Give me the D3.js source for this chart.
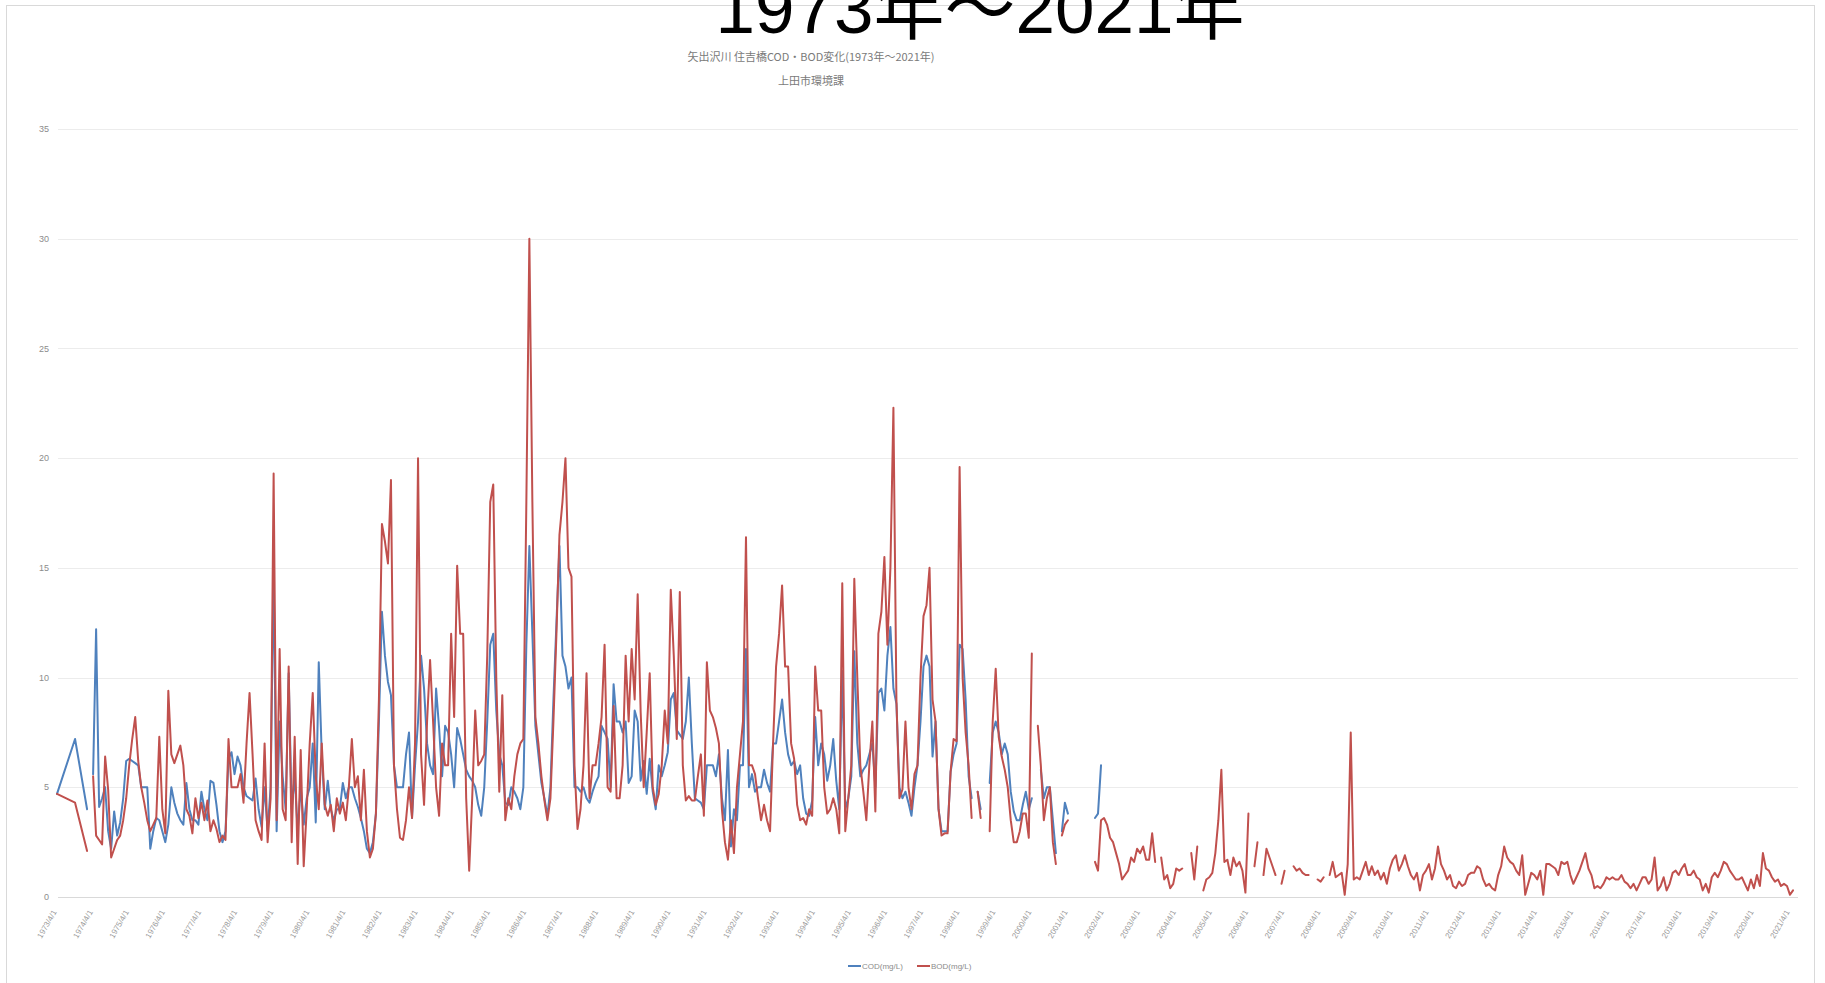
<!DOCTYPE html>
<html><head><meta charset="utf-8">
<script src="https://cdn.jsdelivr.net/npm/d3@7/dist/d3.min.js"></script>
<style>
html,body{margin:0;padding:0;background:#fff;}
svg{display:block;}
</style></head><body>
<svg id="chart" width="1825" height="983"></svg>
<script>
const bigTitle = "1973年〜2021年";
const chartTitle = "矢出沢川  住吉橋COD・BOD変化(1973年〜2021年)";
const chartSubtitle = "上田市環境課";
const seriesNames = ["COD(mg/L)", "BOD(mg/L)"];
const yTicks = [0, 5, 10, 15, 20, 25, 30, 35];
const xTickLabels = [
 "1973/4/1","1974/4/1","1975/4/1","1976/4/1","1977/4/1","1978/4/1","1979/4/1","1980/4/1","1981/4/1","1982/4/1",
 "1983/4/1","1984/4/1","1985/4/1","1986/4/1","1987/4/1","1988/4/1","1989/4/1","1990/4/1","1991/4/1","1992/4/1",
 "1993/4/1","1994/4/1","1995/4/1","1996/4/1","1997/4/1","1998/4/1","1999/4/1","2000/4/1","2001/4/1","2002/4/1",
 "2003/4/1","2004/4/1","2005/4/1","2006/4/1","2007/4/1","2008/4/1","2009/4/1","2010/4/1","2011/4/1","2012/4/1",
 "2013/4/1","2014/4/1","2015/4/1","2016/4/1","2017/4/1","2018/4/1","2019/4/1","2020/4/1","2021/4/1"];

// sampling dates: first year sparse, then monthly
const firstDates = ["1973/4", "1973/10", "1974/2", "1974/3"];
const monthlyStart = "1974/4", monthlyEnd = "2021/5";

const cod = [
 4.7, 7.2, 4.0, null,
 5.6,12.2,4.1,4.5,5.0,3.0,2.2,3.9,2.8,3.4,4.5,6.2,
 6.3,6.2,6.1,6.0,5.0,5.0,5.0,2.2,3.0,3.6,3.5,3.0,
 2.5,3.3,5.0,4.3,3.8,3.5,3.3,5.2,4.0,3.5,3.5,3.3,
 4.8,4.0,3.5,5.3,5.2,4.2,3.0,2.5,3.0,6.3,6.6,5.6,
 6.4,6.0,5.0,4.6,4.5,4.4,5.4,4.0,3.2,5.0,3.0,5.0,
 15.0,3.0,8.0,5.5,4.0,10.2,4.0,5.5,3.0,5.0,3.3,4.5,
 5.0,7.0,3.4,10.7,6.5,4.0,5.3,4.0,3.5,4.0,4.0,5.2,
 4.5,5.0,5.0,4.5,4.1,3.6,3.0,2.2,2.0,2.5,3.8,8.0,
 13.0,11.0,9.8,9.2,6.0,5.0,5.0,5.0,6.5,7.5,3.6,6.0,
 8.0,11.0,9.5,7.0,6.0,5.6,9.5,7.7,5.5,7.8,7.5,6.5,
 5.0,7.7,7.2,6.5,5.8,5.5,5.3,5.0,4.2,3.7,5.0,8.0,
 11.5,12.0,8.5,6.5,6.0,4.3,4.2,5.0,4.8,4.5,4.0,5.0,
 11.5,16.0,12.0,7.8,6.5,5.2,4.5,3.7,5.0,9.0,12.5,16.0,
 11.0,10.5,9.5,10.0,5.0,5.0,4.8,5.0,4.5,4.3,4.8,5.2,
 5.5,7.8,7.5,7.2,5.0,9.7,8.0,8.0,7.5,8.0,5.2,5.5,
 8.5,8.0,5.3,6.2,4.7,6.3,4.8,4.0,6.0,5.5,6.0,6.6,
 9.0,9.3,7.6,7.4,7.2,8.0,10.0,7.0,4.5,4.4,4.3,4.0,
 6.0,6.0,6.0,5.5,6.5,4.5,3.5,6.7,2.3,4.0,3.5,6.0,
 6.0,11.3,5.0,5.6,4.8,5.0,5.0,5.8,5.2,4.8,7.0,7.0,
 8.0,9.0,7.5,6.5,6.0,6.2,5.6,6.0,4.5,3.8,3.7,4.4,
 8.2,6.0,7.0,6.5,5.3,6.0,7.2,5.3,4.0,10.3,4.0,4.5,
 5.5,11.2,7.0,5.5,5.8,6.0,6.5,7.0,5.0,9.3,9.5,8.5,
 11.0,12.3,9.5,8.8,5.0,4.5,4.8,4.3,3.7,5.0,6.0,8.0,
 10.5,11.0,10.5,6.4,8.0,4.0,3.0,3.0,3.0,5.7,6.5,7.0,
 11.5,11.3,9.0,5.5,4.5,null,4.8,4.0,null,null,5.2,7.5,
 8.0,7.5,6.5,7.0,6.5,4.8,3.9,3.5,3.5,4.2,4.8,4.0,
 4.5,null,null,5.8,4.5,5.0,5.0,3.5,2.0,null,3.0,4.3,
 3.8,null,null,null,null,null,null,null,null,3.6,3.8,6.0
];

const bod = [
 4.7, 4.3, 2.1, null,
 5.5,2.8,2.6,2.4,6.4,4.9,1.8,2.2,2.6,2.8,3.5,4.5,
 6.0,7.2,8.2,6.2,5.0,4.3,3.5,3.0,3.3,3.6,7.3,4.0,
 2.9,9.4,6.5,6.1,6.5,6.9,6.0,4.0,3.7,2.9,4.5,3.6,
 4.3,3.5,4.4,3.0,3.5,3.1,2.5,2.8,2.6,7.2,5.0,5.0,
 5.0,5.6,4.3,7.0,9.3,6.5,3.5,3.0,2.6,7.0,2.5,4.5,
 19.3,3.5,11.3,4.0,3.5,10.5,2.5,7.3,1.5,6.7,1.4,4.0,
 7.0,9.3,5.5,4.0,7.0,4.2,3.7,4.2,3.0,4.5,3.8,4.3,
 3.5,5.0,7.2,5.0,5.5,3.5,5.8,3.0,1.8,2.2,3.8,9.0,
 17.0,16.2,15.2,19.0,6.0,4.0,2.7,2.6,3.5,5.0,3.6,7.0,
 20.0,6.5,4.2,8.0,10.8,8.0,5.0,3.7,7.0,6.0,6.0,12.0,
 8.2,15.1,12.0,12.0,4.5,1.2,4.5,8.5,6.0,6.2,6.5,11.0,
 18.0,18.8,10.0,4.8,9.2,3.5,4.5,4.0,5.5,6.5,7.0,7.2,
 18.0,30.0,18.0,8.2,7.0,5.5,4.4,3.5,4.5,8.0,12.0,16.5,
 18.0,20.0,15.0,14.6,6.0,3.1,4.0,6.0,10.2,4.5,6.0,6.0,
 7.0,8.2,11.5,5.0,4.8,8.7,4.5,4.5,6.0,11.0,8.0,11.3,
 9.0,13.8,8.4,5.0,7.5,10.2,5.0,4.2,4.7,6.0,8.5,7.0,
 14.0,11.0,7.2,13.9,6.0,4.4,4.6,4.4,4.4,5.5,6.5,3.7,
 10.7,8.5,8.2,7.7,7.0,4.0,2.5,1.7,3.5,2.0,5.0,6.5,
 8.0,16.4,6.0,6.0,5.6,4.5,3.5,4.2,3.5,3.0,7.0,10.5,
 12.0,14.2,10.5,10.5,7.0,6.3,4.2,3.5,3.6,3.3,4.0,3.7,
 10.5,8.5,8.5,5.0,3.8,4.0,4.5,4.0,2.9,14.3,3.0,4.5,
 6.0,14.5,10.0,6.0,4.8,3.5,6.0,8.0,3.9,12.0,13.0,15.5,
 11.5,15.0,22.3,9.0,4.5,4.9,8.0,5.0,4.0,5.6,6.0,10.0,
 12.8,13.3,15.0,9.0,8.0,4.0,2.8,2.9,2.9,5.7,7.2,7.1,
 19.6,10.0,7.5,6.0,3.6,null,4.8,3.6,null,null,3.0,8.0,
 10.4,7.3,6.4,5.8,5.0,3.5,2.5,2.5,3.0,3.8,3.8,2.7,
 11.1,null,7.8,6.0,3.5,4.5,5.0,2.5,1.5,null,2.8,3.3,
 3.5,null,null,null,null,null,null,null,null,1.6,1.2,3.5,
 3.6,3.3,2.7,2.5,2.0,1.5,0.8,1.0,1.2,1.8,1.6,2.2,
 2.0,2.3,1.7,1.7,2.9,1.6,null,1.8,0.8,1.0,0.4,0.6,
 1.3,1.2,1.3,null,null,2.0,0.8,2.3,null,0.3,0.8,0.9,
 1.1,2.0,3.5,5.8,1.6,1.7,1.0,1.8,1.4,1.6,1.2,0.2,
 3.8,null,1.4,2.5,null,1.0,2.2,1.8,1.4,1.0,null,0.6,
 1.2,null,null,1.4,1.2,1.3,1.1,1.0,1.0,null,null,0.8,
 0.7,0.9,null,1.0,1.6,0.9,1.0,1.1,0.1,1.5,7.5,0.8,
 0.9,0.8,1.2,1.6,1.0,1.4,1.0,1.2,0.8,1.1,0.6,1.3,
 1.7,1.9,1.2,1.5,1.9,1.4,1.0,0.8,1.1,0.3,1.0,1.2,
 1.5,0.8,1.3,2.3,1.5,1.2,0.8,1.0,0.5,0.4,0.7,0.5,
 0.6,1.0,1.1,1.1,1.4,1.3,0.8,0.5,0.6,0.4,0.3,1.0,
 1.4,2.3,1.8,1.6,1.5,1.2,1.0,1.9,0.1,0.6,1.1,1.0,
 0.8,1.2,0.1,1.5,1.5,1.4,1.3,1.0,1.6,1.5,1.6,1.0,
 0.6,0.9,1.2,1.6,2.0,1.3,1.0,0.4,0.5,0.4,0.6,0.9,
 0.8,0.9,0.8,0.8,1.0,0.7,0.6,0.4,0.6,0.3,0.6,0.9,
 0.9,0.6,0.8,1.8,0.3,0.5,0.9,0.3,0.6,1.1,1.2,1.0,
 1.3,1.5,1.0,1.0,1.2,0.9,0.8,0.3,0.6,0.2,0.9,1.1,
 0.9,1.2,1.6,1.5,1.2,1.0,0.8,0.8,0.9,0.6,0.3,0.8,
 0.4,1.0,0.5,2.0,1.3,1.2,0.9,0.7,0.8,0.5,0.6,0.5,
 0.1,0.3
];

const seriesColors = ["#4F81BD", "#C0504D"];

function monthRange(from, to) {
  const [fy, fm] = from.split("/").map(Number);
  const [ty, tm] = to.split("/").map(Number);
  const out = [];
  let y = fy, m = fm;
  while (y < ty || (y === ty && m <= tm)) {
    out.push(y + "/" + m);
    m++; if (m > 12) { m = 1; y++; }
  }
  return out;
}
const dates = firstDates.concat(monthRange(monthlyStart, monthlyEnd));
function monthIndex(s) {
  const [yy, mm] = s.split("/").map(Number);
  return (yy - 1973) * 12 + (mm - 4);
}

const svg = d3.select("#chart");
const W = 1825, H = 983;

// chart frame
svg.append("rect").attr("x", 6.5).attr("y", 5.5).attr("width", 1808).attr("height", 990)
  .attr("fill", "#fff").attr("stroke", "#d9d9d9").attr("stroke-width", 1);

const x = d3.scaleLinear().domain([0, 576]).range([57, 1790]);
const y = d3.scaleLinear().domain([0, 35]).range([897, 129]);

// gridlines
svg.append("g").selectAll("line").data(yTicks).join("line")
  .attr("x1", 58).attr("x2", 1798)
  .attr("y1", d => Math.round(y(d)) + 0.5).attr("y2", d => Math.round(y(d)) + 0.5)
  .attr("stroke", d => d === 0 ? "#d9d9d9" : "#ececec").attr("stroke-width", 1);

// y labels
svg.append("g").selectAll("text").data(yTicks).join("text")
  .attr("x", 49).attr("y", d => y(d)).attr("dy", "0.35em")
  .attr("text-anchor", "end")
  .attr("font-family", "Liberation Sans, Arial, sans-serif")
  .attr("font-size", 9).attr("fill", "#8c8c8c")
  .text(d => d);

// x labels
svg.append("g").selectAll("text").data(xTickLabels).join("text")
  .attr("transform", (d, i) => `translate(${x(i * 12)},912) rotate(-60)`)
  .attr("text-anchor", "end")
  .attr("font-family", "Liberation Sans, Arial, sans-serif")
  .attr("font-size", 8).attr("fill", "#9a9a9a")
  .text(d => d);

// lines
const line = d3.line().defined(d => d.v != null).x(d => x(d.m)).y(d => y(d.v));
const codPts = cod.map((v, i) => ({ m: monthIndex(dates[i]), v }));
const bodPts = bod.map((v, i) => ({ m: monthIndex(dates[i]), v }));
[codPts, bodPts].forEach((pts, k) => {
  svg.append("path").datum(pts).attr("d", line)
    .attr("fill", "none").attr("stroke", seriesColors[k])
    .attr("stroke-width", 2).attr("stroke-linejoin", "round").attr("stroke-linecap", "round");
});

// legend
const lg = svg.append("g").attr("font-family", "Liberation Sans, Arial, sans-serif")
  .attr("font-size", 8).attr("fill", "#8c8c8c");
const legendX = [848, 917];
seriesNames.forEach((n, k) => {
  lg.append("line").attr("x1", legendX[k]).attr("x2", legendX[k] + 13)
    .attr("y1", 966).attr("y2", 966).attr("stroke", seriesColors[k]).attr("stroke-width", 2);
  lg.append("text").attr("x", legendX[k] + 14).attr("y", 966).attr("dy", "0.35em").text(n);
});

// titles
svg.append("text").attr("x", 811).attr("y", 61).attr("text-anchor", "middle")
  .attr("font-family", "Noto Sans CJK JP, sans-serif").attr("font-size", 11).attr("fill", "#7a7a7a")
  .text(chartTitle);
svg.append("text").attr("x", 811).attr("y", 85).attr("text-anchor", "middle")
  .attr("font-family", "Noto Sans CJK JP, sans-serif").attr("font-size", 11).attr("fill", "#7a7a7a")
  .text(chartSubtitle);
svg.append("text").attr("x", 980).attr("y", 33).attr("text-anchor", "middle")
  .attr("font-family", "Liberation Sans, Noto Sans CJK JP, sans-serif").attr("font-size", 71).attr("fill", "#000")
  .text(bigTitle);
</script>
</body></html>
